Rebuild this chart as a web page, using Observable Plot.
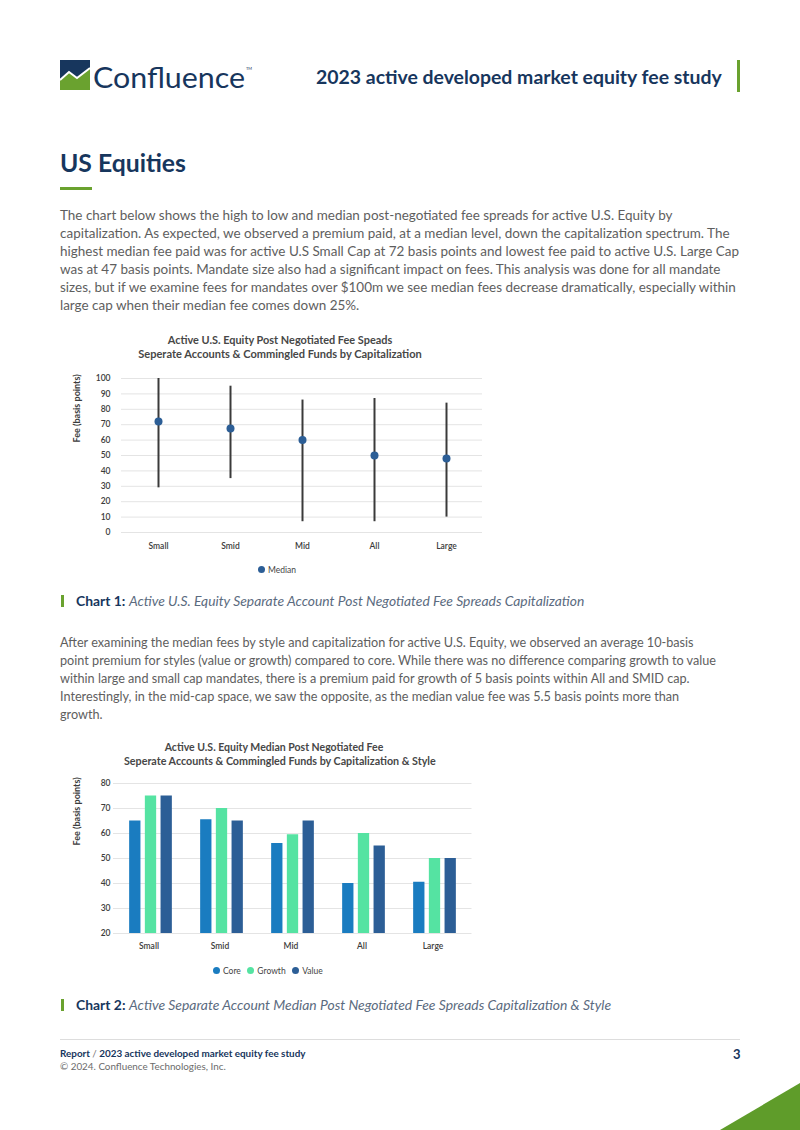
<!DOCTYPE html>
<html><head><meta charset="utf-8">
<script src="https://cdn.jsdelivr.net/npm/d3@7"></script>
<script src="https://cdn.jsdelivr.net/npm/@observablehq/plot@0.6"></script>
<style>
html,body{margin:0;padding:0;background:#fff}
body{width:800px;height:1130px;position:relative;overflow:hidden;font-family:Lato,"Noto Sans",sans-serif}
.abs{position:absolute;white-space:nowrap}
.fit{display:inline-block}
.navy{color:#17365d}
.body{color:#5e5e5e;font-size:12.5px;line-height:18px}
.ctitle{color:#474747;font-size:10px;font-weight:700;line-height:13px;text-align:center}
.leg{font-size:8.5px;color:#444;line-height:12px}
.dot{display:inline-block;width:7px;height:7px;border-radius:50%;vertical-align:middle;margin-right:3px;position:relative;top:-1px}
.cap{font-size:12px;line-height:16px;color:#5b6b80}
.cap b{color:#17365d;font-style:normal}
.cap i{font-style:italic}
.gbar{position:absolute;background:#6aa22f}
</style></head>
<body>
<!-- header logo -->
<svg class="abs" style="left:0;top:0" width="800" height="110">
  <rect x="60" y="60" width="30" height="30" fill="#17365d"/>
  <polygon points="60,80 69,72 77,78 90,68 90,90 60,90" fill="#6aa22f"/>
  <polyline points="60,80 69,72 77,78 90,68" fill="none" stroke="#fff" stroke-width="2"/>
  <text x="93" y="88" font-size="28" fill="#17365d" font-family="Lato, sans-serif" textLength="152" lengthAdjust="spacingAndGlyphs">Confluence</text>
  <text x="246" y="70" font-size="4" fill="#17365d">TM</text>
</svg>
<div class="abs navy fit" data-w="406" style="left:316px;top:66px;font-size:17px;font-weight:700;line-height:22px">2023 active developed market equity fee study</div>
<div class="gbar" style="left:737px;top:60px;width:3px;height:32px"></div>

<div class="abs navy fit" data-w="126" style="left:60px;top:148px;font-size:24px;font-weight:700;line-height:30px">US Equities</div>
<div class="gbar" style="left:60px;top:187px;width:32px;height:3px"></div>

<div class="abs body fit" data-w="680" style="left:60px;top:206px">The chart below shows the high to low and median post-negotiated fee spreads for active U.S. Equity by<br>capitalization. As expected, we observed a premium paid, at a median level, down the capitalization spectrum. The<br>highest median fee paid was for active U.S Small Cap at 72 basis points and lowest fee paid to active U.S. Large Cap<br>was at 47 basis points. Mandate size also had a significant impact on fees. This analysis was done for all mandate<br>sizes, but if we examine fees for mandates over $100m we see median fees decrease dramatically, especially within<br>large cap when their median fee comes down 25%.</div>

<!-- chart 1 -->
<div class="abs ctitle" style="left:130px;top:333px;width:300px"><span class="fit" data-w="225">Active U.S. Equity Post Negotiated Fee Speads</span><br><span class="fit" data-w="284">Seperate Accounts &amp; Commingled Funds by Capitalization</span></div>
<div id="chart1" class="abs" style="left:70px;top:365px"></div>
<div class="abs leg" style="left:258px;top:564px"><span class="dot" style="background:#2c5e96"></span>Median</div>

<div class="gbar" style="left:61px;top:595px;width:3px;height:12px"></div>
<div class="abs cap fit" data-w="509" style="left:76px;top:593px"><b>Chart 1:</b> <i>Active U.S. Equity Separate Account Post Negotiated Fee Spreads Capitalization</i></div>

<div class="abs body fit" data-w="657" style="left:60px;top:633px">After examining the median fees by style and capitalization for active U.S. Equity, we observed an average 10-basis<br>point premium for styles (value or growth) compared to core. While there was no difference comparing growth to value<br>within large and small cap mandates, there is a premium paid for growth of 5 basis points within All and SMID cap.<br>Interestingly, in the mid-cap space, we saw the opposite, as the median value fee was 5.5 basis points more than<br>growth.</div>

<!-- chart 2 -->
<div class="abs ctitle" style="left:124px;top:741px;width:300px"><span class="fit" data-w="219">Active U.S. Equity Median Post Negotiated Fee</span><br><span class="fit" data-w="312">Seperate Accounts &amp; Commingled Funds by Capitalization &amp; Style</span></div>
<div id="chart2" class="abs" style="left:70px;top:770px"></div>
<div class="abs leg" style="left:213px;top:965px"><span class="dot" style="background:#1a7cc0"></span>Core&nbsp;&nbsp;&nbsp;<span class="dot" style="background:#55e3a2"></span>Growth&nbsp;&nbsp;&nbsp;<span class="dot" style="background:#2c5e96"></span>Value</div>

<div class="gbar" style="left:61px;top:999px;width:3px;height:12px"></div>
<div class="abs cap fit" data-w="536" style="left:76px;top:997px"><b>Chart 2:</b> <i>Active Separate Account Median Post Negotiated Fee Spreads Capitalization &amp; Style</i></div>

<!-- footer -->
<div class="abs" style="left:60px;top:1039px;width:680px;height:1px;background:#dddddd"></div>
<div class="abs navy fit" data-w="246" style="left:60px;top:1046px;font-size:9.5px;font-weight:700;line-height:14px">Report <span style="font-weight:400;color:#777">/</span> 2023 active developed market equity fee study</div>
<div class="abs fit" data-w="166" style="left:60px;top:1059px;font-size:9.5px;color:#6b6b6b;line-height:14px">© 2024. Confluence Technologies, Inc.</div>
<div class="abs navy" style="left:733px;top:1045px;font-size:13px;font-weight:700;line-height:18px">3</div>
<svg class="abs" style="left:0;top:0;pointer-events:none" width="800" height="1130">
  <polygon points="720,1130 800,1083 800,1130" fill="#5f9c2a"/>
</svg>

<script>
// ---- data ----
const capCategories = ["Small", "Smid", "Mid", "All", "Large"];
const spreadHigh   = [100, 95, 86, 87, 84];
const spreadLow    = [29, 35, 7, 7, 10];
const spreadMedian = [72, 67.5, 60, 50, 48];
const chart1Ticks  = [0, 10, 20, 30, 40, 50, 60, 70, 80, 90, 100];

const styleSeries = ["Core", "Growth", "Value"];
const coreFees    = [65, 65.5, 56, 40, 40.5];
const growthFees  = [75, 70, 59.5, 60, 50];
const valueFees   = [75, 65, 65, 55, 50];
const chart2Ticks = [20, 30, 40, 50, 60, 70, 80];
const yAxisLabel  = "Fee (basis points)";

// ---- fit text widths ----
document.querySelectorAll(".fit").forEach(el => {
  const t = +el.dataset.w;
  const w = el.getBoundingClientRect().width;
  const fs = parseFloat(getComputedStyle(el).fontSize);
  if (w > 0) el.style.fontSize = (fs * t / w) + "px";
});

const font = "Lato, 'Noto Sans', sans-serif";

// ---- chart 1 ----
const spreadData = capCategories.map((c, i) => ({cap: c, high: spreadHigh[i], low: spreadLow[i], median: spreadMedian[i]}));
const chart1 = Plot.plot({
  width: 420, height: 192,
  marginLeft: 51, marginRight: 8, marginTop: 13, marginBottom: 25,
  style: {fontFamily: font, fontSize: "8.5px", color: "#3c3c3c", background: "transparent", overflow: "visible"},
  x: {type: "band", domain: capCategories, padding: 0, axis: null},
  y: {domain: [0, 100], axis: null},
  marks: [
    Plot.gridY(chart1Ticks, {stroke: "#e4e4e4", strokeOpacity: 1, strokeWidth: 1}),
    Plot.axisY(chart1Ticks, {tickSize: 0, tickPadding: 11, label: null, fontWeight: 600}),
    Plot.axisX({tickSize: 0, tickPadding: 10, label: null, fontWeight: 600}),
    Plot.text([yAxisLabel], {frameAnchor: "left", rotate: -90, dx: -44, dy: -13, fontSize: 9, fontWeight: 700, fill: "#3c3c3c"}),
    Plot.ruleX(spreadData, {x: "cap", y1: "low", y2: "high", stroke: "#3a3a3a", strokeWidth: 2}),
    Plot.dot(spreadData, {x: "cap", y: "median", r: 4, fill: "#2c5e96", stroke: "none"})
  ]
});
document.getElementById("chart1").append(chart1);

// ---- chart 2 ----
const styleData = capCategories.map((c, i) => ({cap: c, Core: coreFees[i], Growth: growthFees[i], Value: valueFees[i]}));
const styleColors = {Core: "#1a7cc0", Growth: "#55e3a2", Value: "#2c5e96"};
const step = 358.5 / capCategories.length;
const barW = 12, barStep = 15.7;
const inset = (step - barW) / 2;
const chart2 = Plot.plot({
  width: 420, height: 188,
  marginLeft: 43, marginRight: 18.5, marginTop: 13, marginBottom: 25,
  style: {fontFamily: font, fontSize: "8.5px", color: "#3c3c3c", background: "transparent", overflow: "visible"},
  x: {type: "band", domain: capCategories, padding: 0, axis: null},
  y: {domain: [20, 80], axis: null},
  marks: [
    Plot.gridY(chart2Ticks, {stroke: "#e4e4e4", strokeOpacity: 1, strokeWidth: 1}),
    Plot.axisY(chart2Ticks, {tickSize: 0, tickPadding: 3, label: null, fontWeight: 600}),
    Plot.axisX({tickSize: 0, tickPadding: 9, label: null, fontWeight: 600, dx: -2}),
    Plot.text([yAxisLabel], {frameAnchor: "left", rotate: -90, dx: -36, dy: -13, fontSize: 9, fontWeight: 700, fill: "#3c3c3c"}),
    ...styleSeries.map((s, k) => Plot.barY(styleData, {
      x: "cap", y1: 20, y2: s, fill: styleColors[s],
      insetLeft: inset, insetRight: inset, dx: (k - 1) * barStep
    }))
  ]
});
document.getElementById("chart2").append(chart2);
</script>
</body></html>
